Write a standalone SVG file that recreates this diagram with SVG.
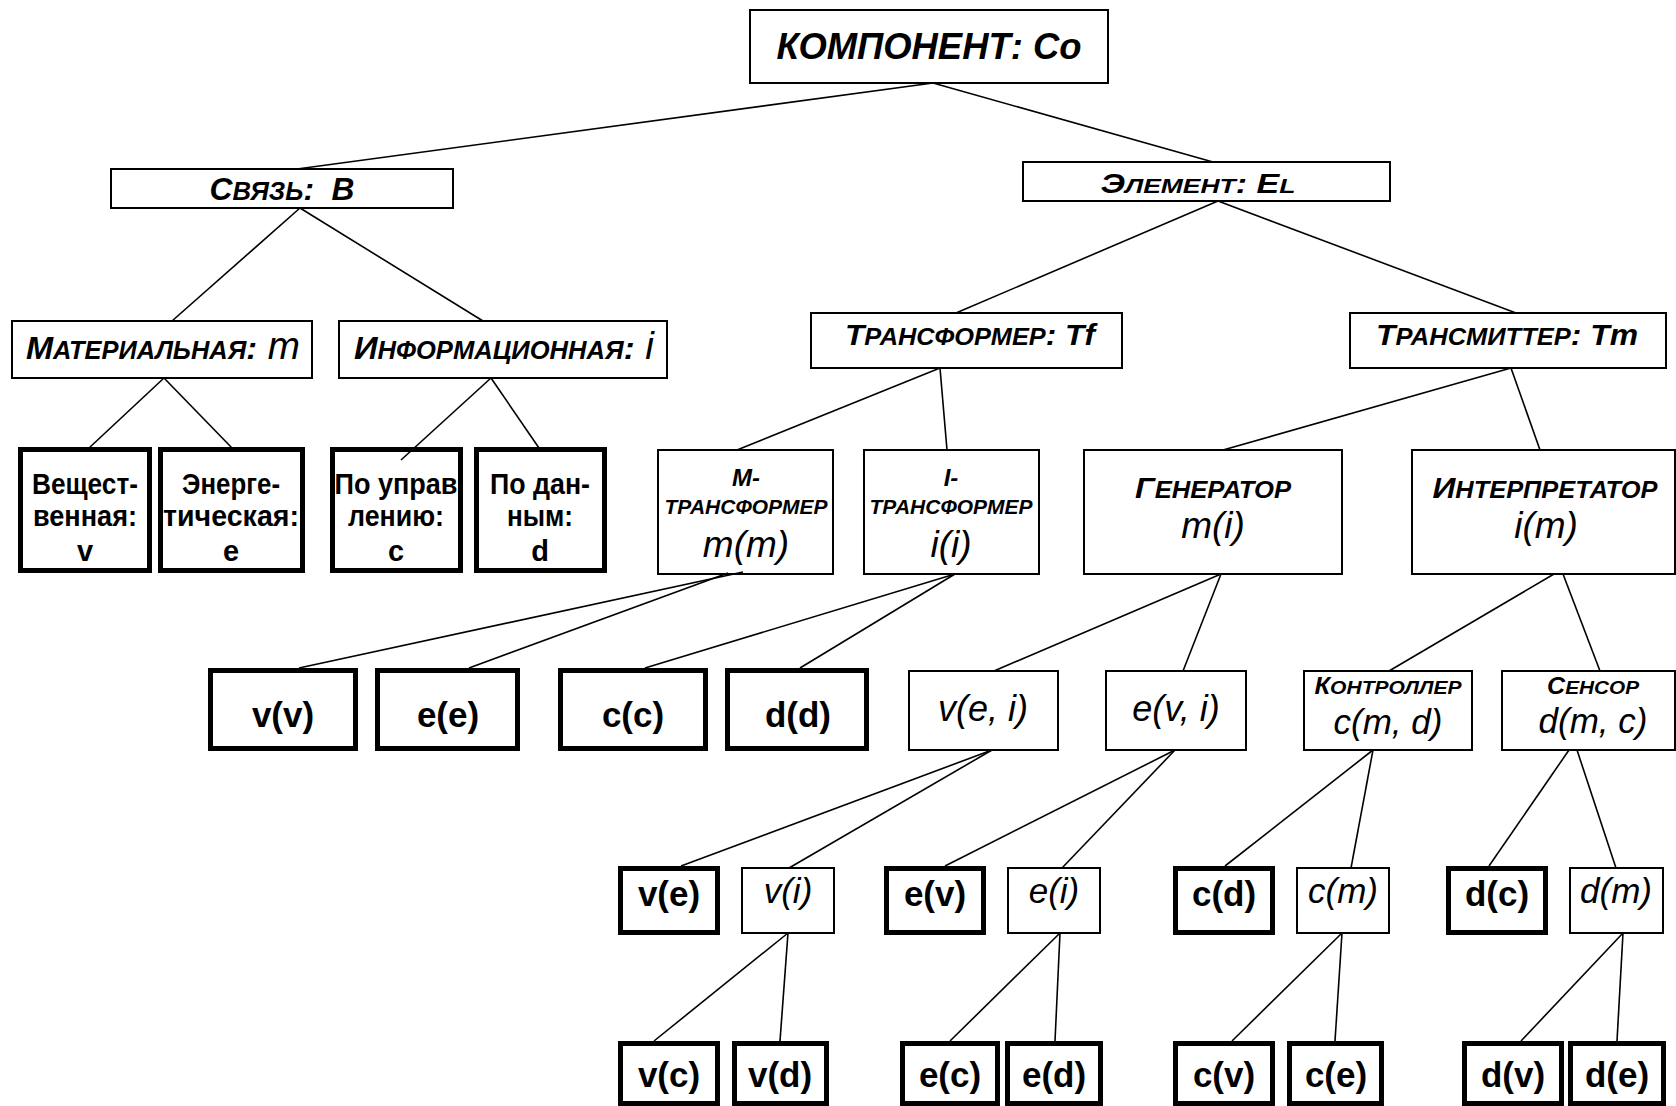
<svg xmlns="http://www.w3.org/2000/svg" width="1676" height="1106" viewBox="0 0 1676 1106">
<style>
.b{fill:#fff;stroke:#000;stroke-width:2}
.k{fill:#fff;stroke:#000;stroke-width:5}
text{font-family:"Liberation Sans",Arial,sans-serif;text-anchor:middle;fill:#000;white-space:pre}
.bi{font-weight:bold;font-style:italic}
.bo{font-weight:bold}
.it{font-style:italic;font-weight:normal}
.w{font-weight:bold;font-size:29px}
#edges line{stroke:#000;stroke-width:1.6}
</style>
<rect width="1676" height="1106" fill="#fff"/>
<g id="n-root"><rect class="b" x="750" y="10" width="358" height="73"/><text class="bi" x="929" y="59" font-size="37" textLength="305" lengthAdjust="spacingAndGlyphs">КОМПОНЕНТ: Co</text></g>
<g id="n-svyaz"><rect class="b" x="111" y="169" width="342" height="39"/><text class="bi" x="282" y="200" font-size="31" textLength="145" lengthAdjust="spacingAndGlyphs">С<tspan font-size="25">ВЯЗЬ</tspan>:  B</text></g>
<g id="n-element"><rect class="b" x="1023" y="162" width="367" height="39"/><text class="bi" x="1198" y="193" font-size="27" textLength="195" lengthAdjust="spacingAndGlyphs">Э<tspan font-size="21">ЛЕМЕНТ</tspan>: E<tspan font-size="21">L</tspan></text></g>
<g id="n-mat"><rect class="b" x="12" y="321" width="300" height="57"/><text class="bi" x="163" y="359" font-size="32" textLength="274" lengthAdjust="spacingAndGlyphs">М<tspan font-size="25">АТЕРИАЛЬНАЯ</tspan>:<tspan class="it" font-size="38"> m</tspan></text></g>
<g id="n-inf"><rect class="b" x="339" y="321" width="328" height="57"/><text class="bi" x="504" y="359" font-size="32" textLength="300" lengthAdjust="spacingAndGlyphs">И<tspan font-size="25">НФОРМАЦИОННАЯ</tspan>:<tspan class="it" font-size="38"> i</tspan></text></g>
<g id="n-tf"><rect class="b" x="811" y="313" width="311" height="55"/><text class="bi" x="970" y="345" font-size="30" textLength="250" lengthAdjust="spacingAndGlyphs">Т<tspan font-size="24">РАНСФОРМЕР</tspan>: Tf</text></g>
<g id="n-tm"><rect class="b" x="1350" y="313" width="316" height="55"/><text class="bi" x="1507" y="345" font-size="30" textLength="262" lengthAdjust="spacingAndGlyphs">Т<tspan font-size="24">РАНСМИТТЕР</tspan>: Tm</text></g>
<g id="n-v"><rect class="k" x="20.5" y="449.5" width="129" height="121"/><text class="w" x="85" y="494" textLength="106" lengthAdjust="spacingAndGlyphs">Вещест-</text><text class="w" x="85" y="526" textLength="104" lengthAdjust="spacingAndGlyphs">венная:</text><text class="w" x="85" y="561">v</text></g>
<g id="n-e"><rect class="k" x="160.5" y="449.5" width="142" height="121"/><text class="w" x="231" y="494" textLength="98" lengthAdjust="spacingAndGlyphs">Энерге-</text><text class="w" x="231" y="526" textLength="136" lengthAdjust="spacingAndGlyphs">тическая:</text><text class="w" x="231" y="561">e</text></g>
<g id="n-c"><rect class="k" x="332.5" y="449.5" width="128" height="121"/><text class="w" x="396" y="494" textLength="123" lengthAdjust="spacingAndGlyphs">По управ</text><text class="w" x="396" y="526" textLength="96" lengthAdjust="spacingAndGlyphs">лению:</text><text class="w" x="396" y="561">c</text></g>
<g id="n-d"><rect class="k" x="476.5" y="449.5" width="128" height="121"/><text class="w" x="540" y="494" textLength="100" lengthAdjust="spacingAndGlyphs">По дан-</text><text class="w" x="540" y="526" textLength="66" lengthAdjust="spacingAndGlyphs">ным:</text><text class="w" x="540" y="561">d</text></g>
<g id="n-mtf"><rect class="b" x="658" y="450" width="175" height="124"/><text class="bi" x="746" y="486" font-size="24">М-</text><text class="bi" x="746" y="514" font-size="20" textLength="163" lengthAdjust="spacingAndGlyphs">ТРАНСФОРМЕР</text><text class="it" x="746" y="557" font-size="37">m(m)</text></g>
<g id="n-itf"><rect class="b" x="864" y="450" width="175" height="124"/><text class="bi" x="951" y="486" font-size="24">I-</text><text class="bi" x="951" y="514" font-size="20" textLength="163" lengthAdjust="spacingAndGlyphs">ТРАНСФОРМЕР</text><text class="it" x="951" y="557" font-size="37">i(i)</text></g>
<g id="n-gen"><rect class="b" x="1084" y="450" width="258" height="124"/><text class="bi" x="1213" y="498" font-size="30" textLength="156" lengthAdjust="spacingAndGlyphs">Г<tspan font-size="24">ЕНЕРАТОР</tspan></text><text class="it" x="1213" y="538" font-size="37">m(i)</text></g>
<g id="n-int"><rect class="b" x="1412" y="450" width="263" height="124"/><text class="bi" x="1545" y="498" font-size="30" textLength="225" lengthAdjust="spacingAndGlyphs">И<tspan font-size="24">НТЕРПРЕТАТОР</tspan></text><text class="it" x="1546" y="538" font-size="37">i(m)</text></g>
<g id="n-vv"><rect class="k" x="210.5" y="670.5" width="145" height="78"/><text class="bo" x="283" y="727" font-size="35">v(v)</text></g>
<g id="n-ee"><rect class="k" x="377.5" y="670.5" width="140" height="78"/><text class="bo" x="448" y="727" font-size="35">e(e)</text></g>
<g id="n-cc"><rect class="k" x="560.5" y="670.5" width="145" height="78"/><text class="bo" x="633" y="727" font-size="35">c(c)</text></g>
<g id="n-dd"><rect class="k" x="727.5" y="670.5" width="139" height="78"/><text class="bo" x="798" y="727" font-size="35">d(d)</text></g>
<g id="n-vei"><rect class="b" x="909" y="671" width="149" height="79"/><text class="it" x="983" y="721" font-size="36">v(e, i)</text></g>
<g id="n-evi"><rect class="b" x="1106" y="671" width="140" height="79"/><text class="it" x="1176" y="721" font-size="36">e(v, i)</text></g>
<g id="n-ctrl"><rect class="b" x="1304" y="671" width="168" height="79"/><text class="bi" x="1388" y="694" font-size="23" textLength="147" lengthAdjust="spacingAndGlyphs">К<tspan font-size="19">ОНТРОЛЛЕР</tspan></text><text class="it" x="1388" y="734" font-size="35">c(m, d)</text></g>
<g id="n-sens"><rect class="b" x="1502" y="671" width="173" height="79"/><text class="bi" x="1593" y="694" font-size="23" textLength="92" lengthAdjust="spacingAndGlyphs">С<tspan font-size="19">ЕНСОР</tspan></text><text class="it" x="1593" y="733" font-size="35">d(m, c)</text></g>
<g id="n-ve"><rect class="k" x="620.5" y="868.5" width="97" height="64"/><text class="bo" x="669" y="906" font-size="35">v(e)</text></g>
<g id="n-vi"><rect class="b" x="742" y="868" width="92" height="65"/><text class="it" x="788" y="903" font-size="35">v(i)</text></g>
<g id="n-ev"><rect class="k" x="886.5" y="868.5" width="97" height="64"/><text class="bo" x="935" y="906" font-size="35">e(v)</text></g>
<g id="n-ei"><rect class="b" x="1008" y="868" width="92" height="65"/><text class="it" x="1054" y="903" font-size="35">e(i)</text></g>
<g id="n-cd"><rect class="k" x="1175.5" y="868.5" width="97" height="64"/><text class="bo" x="1224" y="906" font-size="35">c(d)</text></g>
<g id="n-cm"><rect class="b" x="1297" y="868" width="92" height="65"/><text class="it" x="1343" y="903" font-size="35">c(m)</text></g>
<g id="n-dc"><rect class="k" x="1448.5" y="868.5" width="97" height="64"/><text class="bo" x="1497" y="906" font-size="35">d(c)</text></g>
<g id="n-dm"><rect class="b" x="1570" y="868" width="93" height="65"/><text class="it" x="1616" y="903" font-size="35">d(m)</text></g>
<g id="n-vc"><rect class="k" x="620.5" y="1043.5" width="97" height="60"/><text class="bo" x="669" y="1087" font-size="35">v(c)</text></g>
<g id="n-vd"><rect class="k" x="734.5" y="1043.5" width="92" height="60"/><text class="bo" x="780" y="1087" font-size="35">v(d)</text></g>
<g id="n-ec"><rect class="k" x="902.5" y="1043.5" width="95" height="60"/><text class="bo" x="950" y="1087" font-size="35">e(c)</text></g>
<g id="n-ed"><rect class="k" x="1007.5" y="1043.5" width="93" height="60"/><text class="bo" x="1054" y="1087" font-size="35">e(d)</text></g>
<g id="n-cv"><rect class="k" x="1175.5" y="1043.5" width="97" height="60"/><text class="bo" x="1224" y="1087" font-size="35">c(v)</text></g>
<g id="n-ce"><rect class="k" x="1289.5" y="1043.5" width="92" height="60"/><text class="bo" x="1336" y="1087" font-size="35">c(e)</text></g>
<g id="n-dv"><rect class="k" x="1464.5" y="1043.5" width="97" height="60"/><text class="bo" x="1513" y="1087" font-size="35">d(v)</text></g>
<g id="n-de"><rect class="k" x="1570.5" y="1043.5" width="93" height="60"/><text class="bo" x="1617" y="1087" font-size="35">d(e)</text></g>
<g id="edges">
<line x1="933" y1="83" x2="297" y2="169"/>
<line x1="933" y1="83" x2="1213" y2="162"/>
<line x1="300" y1="208" x2="172" y2="321"/>
<line x1="300" y1="208" x2="483" y2="321"/>
<line x1="164" y1="378" x2="89" y2="448"/>
<line x1="164" y1="378" x2="232" y2="448"/>
<line x1="491" y1="378" x2="401" y2="460"/>
<line x1="491" y1="378" x2="539" y2="448"/>
<line x1="1218" y1="201" x2="956" y2="313"/>
<line x1="1218" y1="201" x2="1516" y2="313"/>
<line x1="940" y1="368" x2="737" y2="450"/>
<line x1="940" y1="368" x2="947" y2="450"/>
<line x1="1511" y1="368" x2="1223" y2="450"/>
<line x1="1511" y1="368" x2="1540" y2="450"/>
<line x1="743" y1="572" x2="299" y2="668"/>
<line x1="728" y1="573" x2="469" y2="668"/>
<line x1="955" y1="574" x2="645" y2="668"/>
<line x1="955" y1="574" x2="800" y2="668"/>
<line x1="1221" y1="574" x2="994" y2="671"/>
<line x1="1221" y1="574" x2="1183" y2="671"/>
<line x1="1554" y1="574" x2="1389" y2="671"/>
<line x1="1563" y1="574" x2="1600" y2="671"/>
<line x1="992" y1="750" x2="681" y2="866"/>
<line x1="992" y1="750" x2="789" y2="868"/>
<line x1="1175" y1="750" x2="945" y2="866"/>
<line x1="1175" y1="750" x2="1062" y2="868"/>
<line x1="1373" y1="750" x2="1225" y2="866"/>
<line x1="1373" y1="750" x2="1351" y2="868"/>
<line x1="1569" y1="750" x2="1489" y2="866"/>
<line x1="1577" y1="750" x2="1616" y2="868"/>
<line x1="788" y1="933" x2="654" y2="1041"/>
<line x1="788" y1="933" x2="780" y2="1041"/>
<line x1="1060" y1="933" x2="950" y2="1041"/>
<line x1="1060" y1="933" x2="1055" y2="1041"/>
<line x1="1342" y1="933" x2="1232" y2="1041"/>
<line x1="1342" y1="933" x2="1335" y2="1041"/>
<line x1="1623" y1="933" x2="1521" y2="1041"/>
<line x1="1623" y1="933" x2="1617" y2="1041"/>
</g>
</svg>
